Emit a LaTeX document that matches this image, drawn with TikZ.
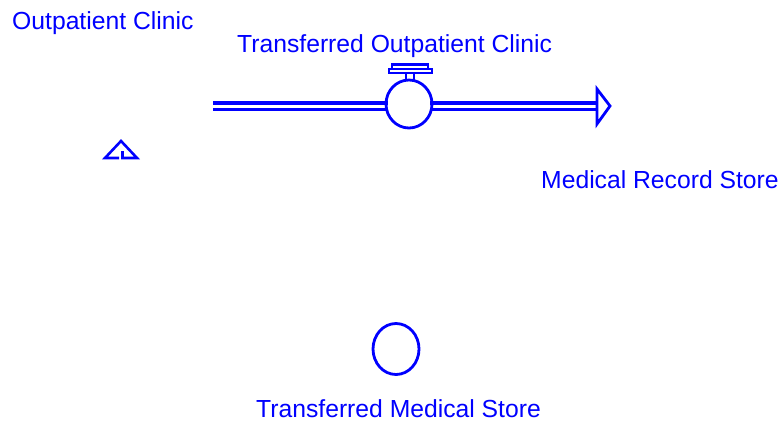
\documentclass[tikz,border=0pt]{standalone}
\usepackage{fontspec}
\setmainfont{Liberation Sans}
\usetikzlibrary{shapes.geometric}
\definecolor{vblue}{RGB}{0,0,255}
\begin{document}
\begin{tikzpicture}[x=1pt,y=-1pt,
  lbl/.style={anchor=base west,inner sep=0pt,text=vblue,font=\fontsize{24.7}{28}\selectfont},
  ln/.style={draw=vblue,line width=2.8pt},
  pipe/.style={draw=vblue,line width=3.2pt}]
\useasboundingbox (0,0) rectangle (781,421);

% labels
\node[lbl] (oc)  at (12,29)  {Outpatient Clinic};
\node[lbl] (toc) at (237,52) {Transferred Outpatient Clinic};
\node[lbl] (mrs) at (541,188) {Medical Record Store};
\node[lbl] (tms) at (256,417) {Transferred Medical Store};

% flow valve
\node[ln,ellipse,minimum width=46pt,minimum height=48pt,inner sep=0pt] (valve) at (409,104) {};
\draw[ln,line width=2.2pt] (406,73) -- (406,80.5) (414,73) -- (414,80.5);
\draw[ln,line width=2.2pt] (392,64.5) rectangle (428,69);
\draw[ln,line width=2.2pt] (389,69) rectangle (432,73);

% pipe ends
\coordinate (pin) at (213,106);
\coordinate (ptip) at (610,106);

% left pipe
\draw[pipe] (213,103) -- (388,103);
\draw[pipe] (213,109.5) -- (388,109.5);
% right pipe
\draw[pipe] (430,103) -- (597,103);
\draw[pipe] (430,109.5) -- (597,109.5);
% hollow arrowhead
\draw[ln,line join=miter] (597,89) -- (ptip) -- (597,124) -- cycle;

% source symbol
\draw[ln,line width=2.6pt,line join=miter] (119,158) -- (105,158) -- (121,141) -- (137,158) -- (122.5,158) -- (122.5,151);

% auxiliary circle
\node[ln,ellipse,minimum width=46pt,minimum height=51pt,inner sep=0pt] (aux) at (396,349) {};
\end{tikzpicture}
\end{document}
